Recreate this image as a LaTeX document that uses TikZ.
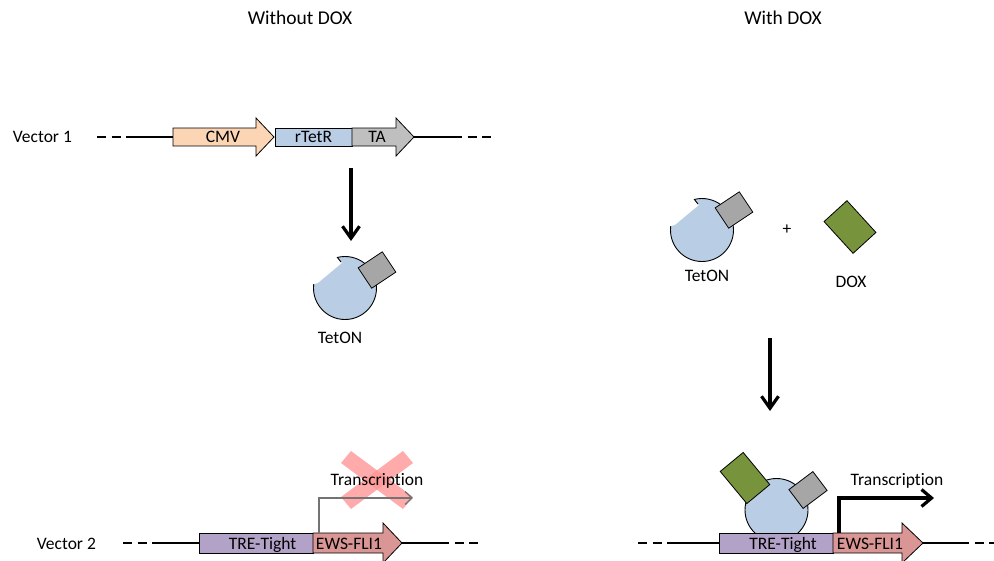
\documentclass[tikz,border=0pt]{standalone}
\usepackage{fontspec}
\setmainfont{Carlito}[Ligatures=NoCommon]
\usetikzlibrary{arrows.meta,calc}

\definecolor{cmvorange}{HTML}{FCD5B5}
\definecolor{tetblue}{HTML}{B9CDE5}
\definecolor{tagray}{HTML}{BFBFBF}
\definecolor{boxgray}{HTML}{A6A6A6}
\definecolor{trepurple}{HTML}{B3A2C7}
\definecolor{ewsred}{HTML}{D99694}
\definecolor{doxgreen}{HTML}{77933C}
\definecolor{crossred}{HTML}{FF9696}

\tikzset{
  dna/.style={line width=1.2pt},
  dnadash/.style={line width=1.2pt, dash pattern=on 9pt off 5.5pt},
  part/.style={draw=black, line width=0.8pt},
  lbl/.style={font=\fontsize{17.5}{20}\selectfont, inner sep=0pt},
  heading/.style={font=\fontsize{19.5}{22}\selectfont, inner sep=0pt},
  flow/.style={line width=3.2pt, -{Straight Barb[length=12pt,width=17pt]}},
  subunit/.style={draw=black, line width=0.8pt, inner sep=0pt, fill=boxgray},
  doxdrug/.style={draw=black, line width=0.8pt, inner sep=0pt, fill=doxgreen},
  protein/.style={draw=black, line width=0.9pt}
}

\begin{document}
\begin{tikzpicture}[x=1pt,y=-1pt]
\useasboundingbox (0,0) rectangle (994,560);
\clip (0,0) rectangle (994,560);

% ---- headings ----
\node[heading, anchor=base] (hleft) at (300,24) {Without DOX};
\node[heading, anchor=base] (hright) at (783,24) {With DOX};

% ---- Vector 1 ----
\node[lbl, anchor=base west] (vec1) at (12.7,142.7) {Vector 1};
\coordinate (v1a) at (97,137);
\coordinate (v1b) at (135,137);
\coordinate (v1c) at (173,137);
\coordinate (v1d) at (414,137);
\coordinate (v1e) at (453,137);
\coordinate (v1f) at (492,137);
\draw[dnadash] (v1a) -- (v1b);
\draw[dna] (v1b) -- (v1c);
\draw[dna] (v1d) -- (v1e);
\draw[dnadash] (v1e) -- (v1f);
\draw[part, fill=cmvorange] (173,128) -- (256,128) -- (256,118) -- (274,137)
  -- (256,156) -- (256,146) -- (173,146) -- cycle;
\draw[part, fill=tetblue] (275,128) rectangle (352,146);
\draw[part, fill=tagray] (352,128) -- (396,128) -- (396,118) -- (414,137)
  -- (396,156) -- (396,146) -- (352,146) -- cycle;
\node[lbl, anchor=base] (cmv) at (223,142.7) {CMV};
\node[lbl, anchor=base] (rtetr) at (313.5,142.7) {rTetR};
\node[lbl, anchor=base] (ta) at (377,142.7) {TA};

% ---- expression arrow ----
\coordinate (expA) at (351,168);
\coordinate (expB) at (351,241);
\draw[flow] (expA) -- (expB);

% ---- TetON protein (left) ----
\fill[tetblue] ($(345,288)+(-104:31.5)$) -- (342,263) -- (318,283)
  -- ($(345,288)+(-173:31.5)$) arc[start angle=-173, end angle=-464, radius=31.5] -- cycle;
\draw[protein] ($(345,288)+(-173:31.5)$) arc[start angle=-173, end angle=-464, radius=31.5]
  .. controls (339,259.5) .. (341,262);
\node[subunit, rotate=33.7, minimum width=29pt, minimum height=24.4pt] (tgL) at (377,270) {};
\node[lbl, anchor=base] (tetonL) at (340,343.5) {TetON};

% ---- TetON protein (right) ----
\fill[tetblue] ($(702,230)+(-104:31.5)$) -- (699,205) -- (675,225)
  -- ($(702,230)+(-173:31.5)$) arc[start angle=-173, end angle=-464, radius=31.5] -- cycle;
\draw[protein] ($(702,230)+(-173:31.5)$) arc[start angle=-173, end angle=-464, radius=31.5]
  .. controls (696,201.5) .. (698,204);
\node[subunit, rotate=33.7, minimum width=29pt, minimum height=24.4pt] (tgR) at (734,210) {};
\node[lbl, anchor=base] (tetonR) at (707,281.5) {TetON};
\node[lbl] (plus) at (787,230) {+};
\node[doxdrug, rotate=42.4, minimum width=31pt, minimum height=43pt] (dox) at (850,227) {};
\node[lbl, anchor=base] (doxlbl) at (851,287.5) {DOX};

% ---- binding arrow ----
\coordinate (bindA) at (770,338);
\coordinate (bindB) at (770,411);
\draw[flow] (bindA) -- (bindB);

% ---- Vector 2 (left, no DOX) ----
\node[lbl, anchor=base west] (vec2) at (36.7,549) {Vector 2};
\coordinate (v2a) at (123,543);
\coordinate (v2b) at (157,543);
\coordinate (v2c) at (199,543);
\coordinate (v2d) at (402,543);
\coordinate (v2e) at (440,543);
\coordinate (v2f) at (478,543);
\draw[dnadash] (v2a) -- (v2b);
\draw[dna] (v2b) -- (v2c);
\draw[dna] (v2d) -- (v2e);
\draw[dnadash] (v2e) -- (v2f);
\draw[part, fill=trepurple] (199,533) rectangle (313,553);
\draw[part, fill=ewsred] (313,533) -- (383,533) -- (383,523) -- (402,543)
  -- (383,563) -- (383,553) -- (313,553) -- cycle;
\node[lbl, anchor=base] (treL) at (262.5,549) {TRE-Tight};
\node[lbl, anchor=base] (ewsL) at (349,549) {EWS-FLI1};

% blocked transcription
\fill[crossred, opacity=0.8] (341,463) -- (351,451) -- (413,497) -- (403,509) -- cycle;
\fill[crossred, opacity=0.8] (403,451) -- (413,463) -- (351,509) -- (341,497) -- cycle;
\coordinate (txLa) at (319,533);
\coordinate (txLb) at (413,498);
\draw[gray!90!black, line width=1.3pt, -{Straight Barb[length=7pt,width=13pt]}]
  (txLa) |- (txLb);
\node[lbl, anchor=base] (txL) at (377,485) {Transcription};

% ---- Vector 2 (right, with DOX) ----
\coordinate (v3a) at (638,543);
\coordinate (v3b) at (675,543);
\coordinate (v3c) at (719,543);
\coordinate (v3d) at (923,543);
\coordinate (v3e) at (960,543);
\coordinate (v3f) at (998,543);
\draw[dnadash] (v3a) -- (v3b);
\draw[dna] (v3b) -- (v3c);
\draw[dna] (v3d) -- (v3e);
\draw[dnadash] (v3e) -- (v3f);
\draw[protein, fill=tetblue] (776.5,510) circle[radius=31.5];
\draw[part, fill=trepurple] (719,533) rectangle (833,553);
\draw[part, fill=ewsred] (833,533) -- (902,533) -- (902,523) -- (923,543)
  -- (902,563) -- (902,553) -- (833,553) -- cycle;
\node[lbl, anchor=base] (treR) at (783,549) {TRE-Tight};
\node[lbl, anchor=base] (ewsR) at (870,549) {EWS-FLI1};
\node[doxdrug, rotate=39.6, minimum width=29.8pt, minimum height=41.7pt] (doxB) at (745,478) {};
\node[subunit, rotate=36.9, minimum width=30pt, minimum height=23.6pt] (tgB) at (808,490) {};

% active transcription
\coordinate (txRa) at (839,533);
\coordinate (txRb) at (934,498);
\draw[line width=3.2pt, -{Straight Barb[length=10pt,width=17pt]}] (txRa) |- (txRb);
\node[lbl, anchor=base] (txR) at (897,485) {Transcription};
\end{tikzpicture}
\end{document}
